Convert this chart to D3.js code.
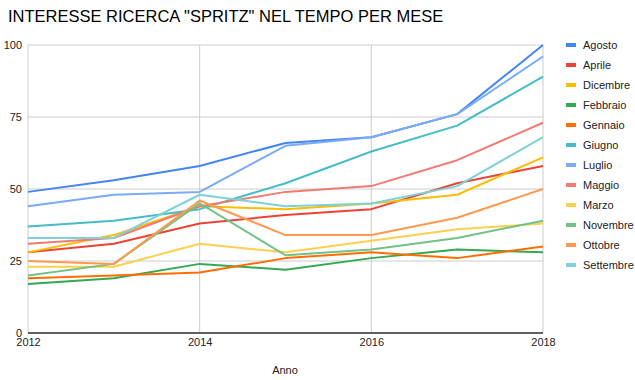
<!DOCTYPE html>
<html>
<head>
<meta charset="utf-8">
<script src="https://cdn.jsdelivr.net/npm/d3@7"></script>
<style>
  body { margin: 0; background: #fff; }
  text { font-family: "Liberation Sans", Arial, sans-serif; }
</style>
</head>
<body>
<div class="chart"></div>
<script>
var width = 635;
var height = 380;

var years = [2012, 2013, 2014, 2015, 2016, 2017, 2018];
var months = ["Agosto", "Aprile", "Dicembre", "Febbraio", "Gennaio", "Giugno",
    "Luglio", "Maggio", "Marzo", "Novembre", "Ottobre", "Settembre"];
var colors = ["#4285F4", "#EA4335", "#FBBC04", "#34A853", "#FF6D01", "#46BDC6",
    "#7BAAF7", "#F07B72", "#FCD04F", "#71C287", "#FF994D", "#7ED1D7"];

var agosto    = [49, 53, 58, 66, 68, 76, 100];
var aprile    = [28, 31, 38, 41, 43, 52, 58];
var dicembre  = [28, 34, 44, 43, 45, 48, 61];
var febbraio  = [17, 19, 24, 22, 26, 29, 28];
var gennaio   = [19, 20, 21, 26, 28, 26, 30];
var giugno    = [37, 39, 43, 52, 63, 72, 89];
var luglio    = [44, 48, 49, 65, 68, 76, 96];
var maggio    = [31, 33, 44, 49, 51, 60, 73];
var marzo     = [23, 23, 31, 28, 32, 36, 38];
var novembre  = [20, 24, 45, 27, 29, 33, 39];
var ottobre   = [25, 24, 46, 34, 34, 40, 50];
var settembre = [33, 33, 48, 44, 45, 51, 68];

var series = [agosto, aprile, dicembre, febbraio, gennaio, giugno,
    luglio, maggio, marzo, novembre, ottobre, settembre];

var yTicks = [0, 25, 50, 75, 100];
var xTicks = [2012, 2014, 2016, 2018];

var x = d3.scaleLinear().domain([2012, 2018]).range([28, 543]);
var y = d3.scaleLinear().domain([0, 100]).range([333, 45]);

var svg = d3.select(".chart")
    .append("svg")
    .attr("width", width)
    .attr("height", height);

svg.append("text")
    .attr("x", 8)
    .attr("y", 22)
    .style("font-size", "16.5px")
    .style("fill", "#000")
    .text('INTERESSE RICERCA "SPRITZ" NEL TEMPO PER MESE');

// gridlines
svg.append("g")
    .selectAll("line")
    .data(yTicks)
    .enter()
    .append("line")
    .attr("x1", x(2012))
    .attr("x2", x(2018))
    .attr("y1", function (d) { return y(d); })
    .attr("y2", function (d) { return y(d); })
    .style("stroke", "#ccc")
    .style("stroke-width", 1);

svg.append("g")
    .selectAll("line")
    .data(xTicks)
    .enter()
    .append("line")
    .attr("x1", function (d) { return x(d); })
    .attr("x2", function (d) { return x(d); })
    .attr("y1", y(100))
    .attr("y2", y(0))
    .style("stroke", "#ccc")
    .style("stroke-width", 1);

// y axis labels
var yAxis = d3.axisLeft(y).tickValues(yTicks).tickSize(0).tickPadding(6);
svg.append("g")
    .attr("transform", "translate(" + x(2012) + ",0)")
    .call(yAxis)
    .call(function (g) { g.select(".domain").remove(); })
    .selectAll("text")
    .style("font-family", "Liberation Sans, Arial, sans-serif")
    .style("font-size", "11px")
    .style("fill", "#222");

// x axis labels
var xAxis = d3.axisBottom(x).tickValues(xTicks).tickFormat(d3.format("d")).tickSize(0).tickPadding(5);
svg.append("g")
    .attr("transform", "translate(0," + y(0) + ")")
    .call(xAxis)
    .call(function (g) { g.select(".domain").remove(); })
    .selectAll("text")
    .style("font-family", "Liberation Sans, Arial, sans-serif")
    .style("font-size", "11px")
    .style("fill", "#222");

svg.append("line")
    .attr("x1", x(2012))
    .attr("x2", x(2018))
    .attr("y1", y(0))
    .attr("y2", y(0))
    .style("stroke", "#333")
    .style("stroke-width", 1.5);

svg.append("text")
    .attr("x", 285)
    .attr("y", 374)
    .attr("text-anchor", "middle")
    .style("font-size", "11px")
    .style("fill", "#222")
    .text("Anno");

// lines
var line = d3.line()
    .x(function (d, i) { return x(years[i]); })
    .y(function (d) { return y(d); });

svg.append("g")
    .selectAll("path")
    .data(series)
    .enter()
    .append("path")
    .attr("d", line)
    .style("fill", "none")
    .style("stroke", function (d, i) { return colors[i]; })
    .style("stroke-width", 2)
    .style("stroke-linejoin", "round");

// legend
var legend = svg.append("g")
    .selectAll("g")
    .data(months)
    .enter()
    .append("g")
    .attr("transform", function (d, i) { return "translate(566," + (45 + i * 20) + ")"; });

legend.append("rect")
    .attr("x", 0)
    .attr("y", -2)
    .attr("width", 10)
    .attr("height", 4)
    .style("fill", function (d, i) { return colors[i]; });

legend.append("text")
    .attr("x", 17)
    .attr("y", 4)
    .style("font-size", "11px")
    .style("fill", "#222")
    .text(function (d) { return d; });
</script>
</body>
</html>
